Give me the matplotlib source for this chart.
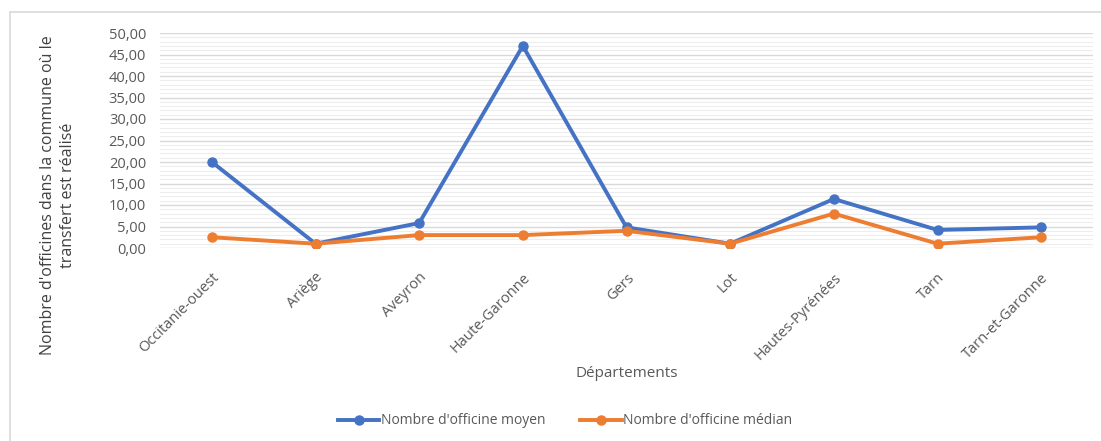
import matplotlib.pyplot as plt
from matplotlib.patches import Rectangle
from matplotlib.ticker import MultipleLocator, FuncFormatter

departements = ["Occitanie-ouest", "Ariège", "Aveyron", "Haute-Garonne", "Gers",
                "Lot", "Hautes-Pyrénées", "Tarn", "Tarn-et-Garonne"]
moyen = [20.0, 1.0, 5.8, 47.0, 4.8, 1.0, 11.4, 4.2, 4.8]
median = [2.5, 1.0, 3.0, 3.0, 4.0, 1.0, 8.0, 1.0, 2.5]

plt.rcParams['font.family'] = ['Open Sans', 'DejaVu Sans']
grey = '#595959'

fig = plt.figure(figsize=(11.01, 4.41), dpi=100)
ax = fig.add_axes([160 / 1101, 1 - 248 / 441, 933 / 1101, 215 / 441])

# light frame round the chart area
fig.patches.append(Rectangle((10 / 1101, -0.1), 1.2, 1 - 12 / 441 + 0.1,
                             transform=fig.transFigure, fill=False,
                             edgecolor='#D9D9D9', linewidth=1.2))

x = list(range(len(departements)))
ax.plot(x, moyen, color='#4472C4', lw=2.8, marker='o', ms=6.5, label="Nombre d'officine moyen")
ax.plot(x, median, color='#ED7D31', lw=2.8, marker='o', ms=6.5, label="Nombre d'officine médian")

ax.set_xlim(-0.5, len(departements) - 0.5)
ax.set_ylim(0, 50)
ax.yaxis.set_major_locator(MultipleLocator(5))
ax.yaxis.set_minor_locator(MultipleLocator(1))
ax.yaxis.set_major_formatter(FuncFormatter(lambda v, p: f"{v:.2f}".replace('.', ',')))
ax.grid(axis='y', which='major', color='#D9D9D9', lw=1)
ax.grid(axis='y', which='minor', color='#EDEDED', lw=0.8)
ax.set_axisbelow(True)
for s in ax.spines.values():
    s.set_visible(False)
ax.tick_params(axis='both', which='both', length=0, colors=grey, labelsize=10.5)
ax.tick_params(axis='y', pad=10)

ax.set_xticks(x)
ax.set_xticklabels(departements, rotation=45, ha='right', va='top', rotation_mode='anchor')
ax.tick_params(axis='x', pad=16)

ax.set_xlabel("Départements", color=grey, fontsize=11, labelpad=2)
fig.text(58 / 1101, 1 - 195 / 441, "Nombre d'officines dans la commune où le\ntransfert est réalisé",
         rotation=90, ha='center', va='center', color='#404040', fontsize=11.5,
         multialignment='center', linespacing=1.25)

fig.legend(loc='center', bbox_to_anchor=(565 / 1101, 1 - 421 / 441), ncol=2, frameon=False,
           fontsize=10, labelcolor=grey, handlelength=3, handletextpad=0.1, columnspacing=2.5)

fig.savefig('out.png', dpi=100)
